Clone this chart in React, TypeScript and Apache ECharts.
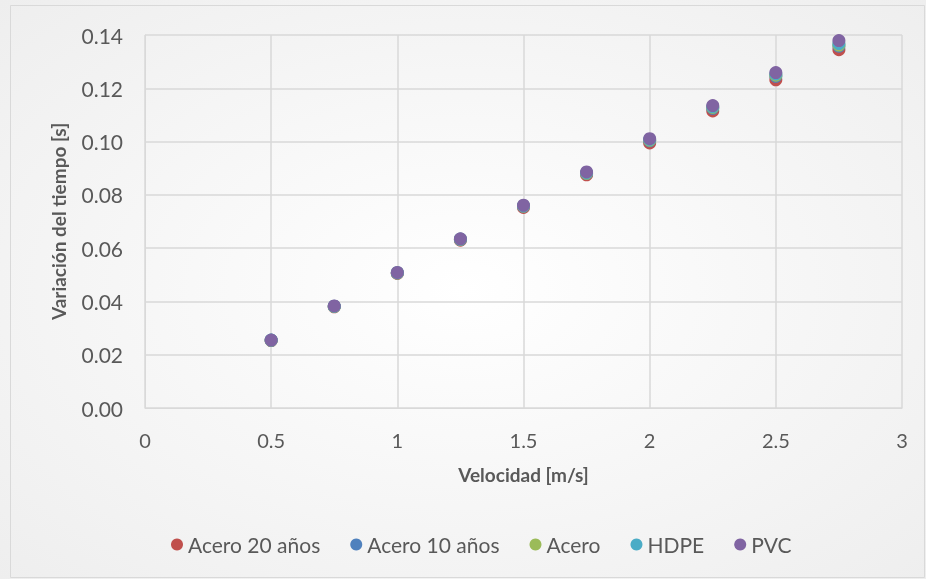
import React, { useEffect, useRef } from "react";
import * as echarts from "echarts";

const velocities = [0.5, 0.75, 1, 1.25, 1.5, 1.75, 2, 2.25, 2.5, 2.75];
const acero20 = [0.0253, 0.038, 0.0505, 0.063, 0.0753, 0.0875, 0.0995, 0.1115, 0.1232, 0.1345];
const acero10 = [0.0254, 0.0381, 0.0507, 0.0632, 0.0757, 0.088, 0.1003, 0.1125, 0.1245, 0.1358];
const acero = [0.0254, 0.0381, 0.0507, 0.0633, 0.0758, 0.0881, 0.1005, 0.1128, 0.1249, 0.1362];
const hdpe = [0.0255, 0.0382, 0.0508, 0.0634, 0.0759, 0.0883, 0.1008, 0.1131, 0.1254, 0.1368];
const pvc = [0.0255, 0.0383, 0.0509, 0.0635, 0.0761, 0.0886, 0.1011, 0.1135, 0.1259, 0.1379];

const seriesNames = ["Acero 20 años", "Acero 10 años", "Acero", "HDPE", "PVC"];
const seriesValues = [acero20, acero10, acero, hdpe, pvc];
const colors = ["#C0504D", "#4F81BD", "#9BBB59", "#4BACC6", "#8064A2"];

const FONT = "Lato, 'Open Sans', sans-serif";
const GREY = "#595959";

export default function App() {
  const ref = useRef<HTMLDivElement>(null);
  useEffect(() => {
    if (!ref.current) return;
    const chart = echarts.init(ref.current, undefined, { renderer: "svg" });
    chart.setOption({
      animation: false,
      backgroundColor: {
        type: "radial",
        x: 0.5,
        y: 0.5,
        r: 0.75,
        colorStops: [
          { offset: 0, color: "#ffffff" },
          { offset: 1, color: "#ededed" },
        ],
      },
      graphic: [
        {
          type: "rect",
          shape: { x: 10.5, y: 5.5, width: 914, height: 572 },
          style: { fill: "none", stroke: "#d9d9d9", lineWidth: 1 },
          silent: true,
        },
      ],
      grid: { left: 145, right: 24, top: 35, bottom: 171, containLabel: false },
      xAxis: {
        type: "value",
        min: 0,
        max: 3,
        interval: 0.5,
        name: "Velocidad [m/s]",
        nameLocation: "middle",
        nameGap: 57,
        nameTextStyle: { color: GREY, fontSize: 19, fontWeight: "bold", fontFamily: FONT },
        axisLine: { show: true, lineStyle: { color: "#d9d9d9", width: 1 } },
        axisTick: { show: false },
        axisLabel: { color: GREY, fontSize: 20, fontFamily: FONT, margin: 22 },
        splitLine: { show: true, lineStyle: { color: "#d9d9d9", width: 1.5 } },
      },
      yAxis: {
        type: "value",
        min: 0,
        max: 0.14,
        interval: 0.02,
        name: "Variación del tiempo [s]",
        nameLocation: "middle",
        nameGap: 77,
        nameTextStyle: { color: GREY, fontSize: 19, fontWeight: "bold", fontFamily: FONT },
        axisLine: { show: true, lineStyle: { color: "#d9d9d9", width: 1 } },
        axisTick: { show: false },
        axisLabel: {
          color: GREY,
          fontSize: 21,
          fontFamily: FONT,
          margin: 22,
          formatter: (v: number) => v.toFixed(2),
        },
        splitLine: { show: true, lineStyle: { color: "#d9d9d9", width: 1.5 } },
      },
      legend: {
        bottom: 19,
        left: 166,
        itemWidth: 12,
        itemHeight: 12,
        itemGap: 30,
        icon: "circle",
        textStyle: { color: GREY, fontSize: 21, fontFamily: FONT },
        data: seriesNames,
      },
      series: seriesNames.map((name, i) => ({
        name,
        type: "scatter",
        symbol: "circle",
        symbolSize: 13,
        itemStyle: { color: colors[i], opacity: 1 },
        data: velocities.map((v, j) => [v, seriesValues[i][j]]),
      })),
    });
    return () => chart.dispose();
  }, []);
  return (
    <div
      ref={ref}
      style={{ position: "fixed", left: 0, top: 0, width: 926, height: 579 }}
    />
  );
}
